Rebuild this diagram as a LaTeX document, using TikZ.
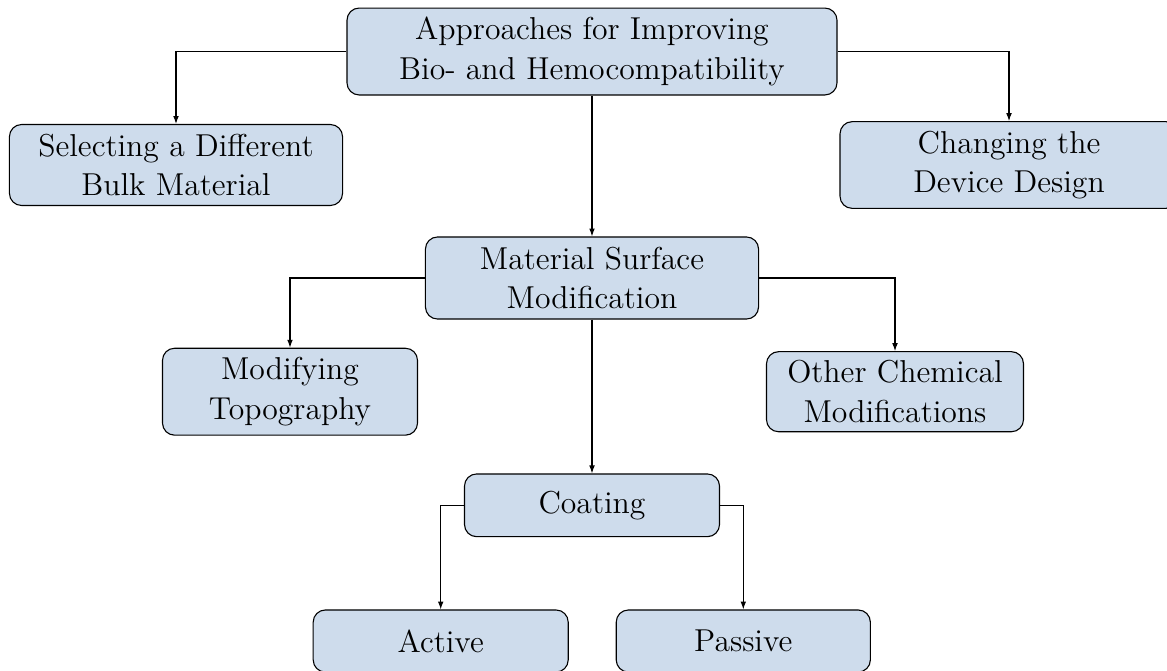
\documentclass[tikz,border=0pt]{standalone}
\usetikzlibrary{arrows.meta}
\definecolor{boxfill}{RGB}{206,220,236}
\begin{document}
\begin{tikzpicture}[
  x=0.4545pt, y=-0.4545pt,
  box/.style={draw=black, fill=boxfill, rounded corners=5.5pt, line width=0.5pt,
    align=center, inner sep=0pt, font=\Large},
  link/.style={line width=0.5pt, -{Latex[length=3.6pt,width=2.6pt]}}
]
\useasboundingbox (0,0) rectangle (1167,670);

% top level
\node[box, minimum width=222.7pt, minimum height=39.5pt] (top) at (592,51.5)
  {Approaches for Improving\\Bio- and Hemocompatibility};
\node[box, minimum width=151.4pt, minimum height=36.8pt] (bulk) at (176,165)
  {Selecting a Different\\Bulk Material};
\node[box, minimum width=153.6pt, minimum height=39.4pt] (design) at (1009,165)
  {Changing the\\Device Design};

% surface modification branch
\node[box, minimum width=151.4pt, minimum height=37.3pt] (surf) at (592,278)
  {Material Surface\\Modification};
\node[box, minimum width=115.9pt, minimum height=39.5pt] (topo) at (290,391.7)
  {Modifying\\Topography};
\node[box, minimum width=116.8pt, minimum height=36.4pt] (chem) at (895,391.7)
  {Other Chemical\\Modifications};

% coatings
\node[box, minimum width=115.9pt, minimum height=28.5pt] (coat) at (592,505.3)
  {Coating};
\node[box, minimum width=115.9pt, minimum height=28.2pt] (active) at (440.7,641)
  {Active};
\node[box, minimum width=115.5pt, minimum height=28.2pt] (passive) at (743.3,641)
  {Passive};

% connectors
\draw[link] (top.west) -| (bulk.north);
\draw[link] (top.east) -| (design.north);
\draw[link] (top.south) -- (surf.north);
\draw[link] (surf.west) -| (topo.north);
\draw[link] (surf.east) -| (chem.north);
\draw[link] (surf.south) -- (coat.north);
\draw[link] (coat.west) -| (active.north);
\draw[link] (coat.east) -| (passive.north);
\end{tikzpicture}
\end{document}
